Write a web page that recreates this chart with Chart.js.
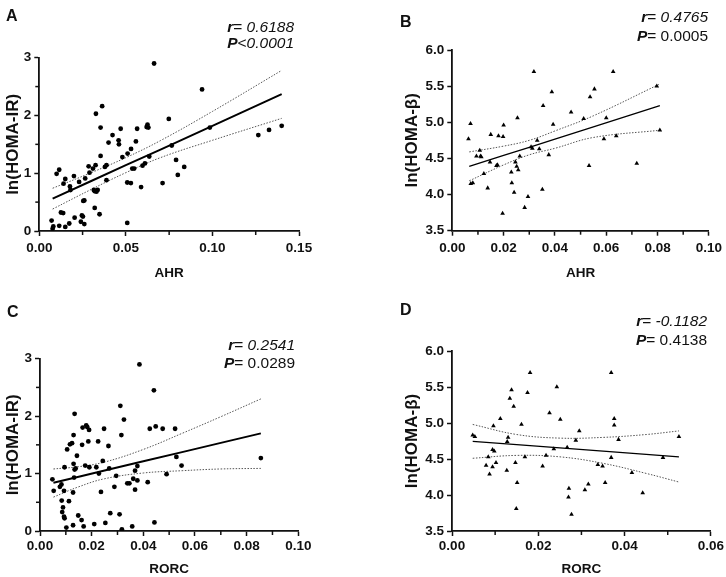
<!DOCTYPE html>
<html>
<head>
<meta charset="utf-8">
<script src="https://cdn.jsdelivr.net/npm/chart.js@4.4.0/dist/chart.umd.min.js"></script>
<style>
body { margin: 0; background: #fff; }
#wrap { position: relative; width: 726px; height: 577px; }
canvas { position: absolute; }
</style>
</head>
<body>
<div id="wrap">
  <canvas id="cA" width="363" height="288" style="left:0;top:0"></canvas>
  <canvas id="cB" width="363" height="288" style="left:363px;top:0"></canvas>
  <canvas id="cC" width="363" height="289" style="left:0;top:288px"></canvas>
  <canvas id="cD" width="363" height="289" style="left:363px;top:288px"></canvas>
</div>
<script>
// ---- panel A : AHR vs ln(HOMA-IR)
const aX = [0.0071,0.0077,0.0081,0.010,0.0115,0.0115,0.0125,0.0138,0.014,0.015,0.015,0.0173,0.0177,0.018,0.020,0.0204,0.023,0.024,0.0246,0.0252,0.0254,0.026,0.026,0.0265,0.0285,0.029,0.031,0.0315,0.032,0.0327,0.0325,0.032,0.033,0.0337,0.0348,0.0354,0.0354,0.0363,0.0379,0.0388,0.0388,0.040,0.0423,0.0458,0.046,0.047,0.048,0.0508,0.0508,0.051,0.053,0.0529,0.0537,0.0548,0.0558,0.0565,0.0588,0.0596,0.061,0.062,0.0625,0.063,0.0635,0.0663,0.0712,0.0748,0.0765,0.079,0.080,0.0837,0.094,0.0985,0.1265,0.1327,0.140];
const aY = [0.18,0.04,0.08,0.99,1.06,0.09,0.32,0.31,0.82,0.90,0.07,0.13,0.77,0.71,0.95,0.23,0.85,0.16,0.27,0.25,0.52,0.53,0.12,0.91,1.12,1.01,1.08,0.71,0.69,2.03,1.14,0.40,0.68,0.71,0.29,1.30,1.79,2.16,1.11,1.14,0.88,1.53,1.66,1.57,1.50,1.77,1.28,0.84,0.14,1.34,1.42,0.83,1.08,1.08,1.55,1.77,0.76,1.13,1.17,1.80,1.84,1.79,1.29,2.90,0.83,1.94,1.48,1.23,0.97,1.11,2.45,1.79,1.66,1.75,1.82];
const aBandX = [0.0077,0.03,0.05,0.07,0.10,0.140];
const aFit   = [0.56,0.865,1.14,1.41,1.82,2.37];
const aUpper = [0.74,1.01,1.27,1.565,2.07,2.78];
const aLower = [0.38,0.72,1.01,1.27,1.57,1.95];

// ---- panel B : AHR vs ln(HOMA-beta)
const bX = [0.0063,0.0071,0.0072,0.0080,0.0094,0.0107,0.011,0.0113,0.0123,0.0138,0.0147,0.0150,0.0172,0.0176,0.018,0.0196,0.0198,0.0200,0.023,0.0232,0.0241,0.0246,0.0251,0.0254,0.0257,0.0263,0.0282,0.0295,0.0307,0.0312,0.0318,0.0331,0.0339,0.0351,0.0354,0.0376,0.0388,0.0393,0.0463,0.0512,0.0533,0.0537,0.0554,0.0591,0.060,0.0627,0.0639,0.0719,0.0797,0.0809];
const bY = [4.77,4.98,4.15,4.16,4.53,4.61,4.53,4.52,4.29,4.09,4.45,4.83,4.40,4.41,4.81,3.74,4.80,4.96,4.31,4.16,4.03,4.45,4.39,5.06,4.34,4.53,3.82,3.97,4.66,4.64,5.70,4.75,4.63,4.07,5.23,4.55,5.42,4.97,5.14,5.05,4.40,5.35,5.46,4.77,5.06,5.70,4.81,4.43,5.50,4.89];
const bBandX = [0.0066,0.02,0.03,0.04,0.055,0.0809];
const bFit   = [4.39,4.541,4.654,4.767,4.937,5.23];
const bUpper = [4.59,4.67,4.75,4.88,5.09,5.53];
const bLower = [4.19,4.41,4.55,4.64,4.79,4.89];

// ---- panel C : RORC vs ln(HOMA-IR)
const cX = [0.0048,0.0053,0.0077,0.0083,0.0084,0.0086,0.0089,0.0093,0.0095,0.0093,0.0095,0.0102,0.0105,0.0112,0.0116,0.0124,0.0128,0.0128,0.013,0.013,0.0132,0.0134,0.0134,0.0138,0.0143,0.0148,0.0161,0.0163,0.0165,0.0169,0.0175,0.0179,0.0183,0.0187,0.019,0.0191,0.021,0.0218,0.0225,0.0228,0.0236,0.0243,0.0248,0.0253,0.0265,0.0268,0.0272,0.0288,0.0295,0.0308,0.0311,0.0315,0.0317,0.0325,0.0338,0.0346,0.0357,0.0361,0.0368,0.0368,0.0377,0.0377,0.0385,0.0417,0.0425,0.0441,0.0443,0.0448,0.0475,0.049,0.0523,0.0528,0.0548,0.0855];
const cY = [0.90,0.70,0.77,0.81,0.53,0.33,0.41,0.25,0.22,0.70,1.11,0.06,1.42,0.52,1.51,1.53,0.67,0.10,1.17,1.67,0.93,2.04,1.07,1.09,1.31,0.27,0.19,1.50,1.80,0.08,1.14,1.84,1.81,1.56,1.76,1.11,0.12,1.11,1.56,1.00,0.68,1.22,1.78,0.14,1.48,1.09,0.31,0.77,0.96,0.29,2.18,1.67,0.03,1.94,0.83,0.83,0.08,0.91,0.72,1.05,1.13,0.88,2.90,0.85,1.78,2.45,0.15,1.82,1.78,0.99,1.78,1.29,1.14,1.27];
const cBandX = [0.0052,0.015,0.025,0.04,0.055,0.07,0.0855];
const cFit   = [0.84,0.945,1.052,1.213,1.373,1.534,1.70];
const cUpper = [1.08,1.12,1.20,1.42,1.70,1.99,2.30];
const cLower = [0.59,0.77,0.91,1.01,1.05,1.08,1.09];

// ---- panel D : RORC vs ln(HOMA-beta)
const dX = [0.0048,0.0053,0.0079,0.0084,0.0087,0.0094,0.0094,0.0096,0.0098,0.0102,0.0112,0.0127,0.0128,0.013,0.0134,0.0138,0.0143,0.0147,0.0149,0.0151,0.0161,0.0169,0.0175,0.0181,0.021,0.0218,0.0226,0.0243,0.0251,0.0236,0.0267,0.027,0.0271,0.0277,0.0287,0.0295,0.0308,0.0316,0.0338,0.0349,0.0355,0.0369,0.0369,0.0376,0.0376,0.0386,0.0417,0.0442,0.0489,0.0526];
const dY = [4.83,4.81,4.41,4.53,4.29,4.39,4.63,4.96,4.61,4.45,5.06,4.34,4.74,4.80,5.34,5.46,5.23,4.45,3.81,4.17,4.98,4.53,5.42,5.70,4.40,4.55,5.14,5.50,5.05,4.64,4.66,3.97,4.09,3.73,4.76,4.89,4.07,4.15,4.42,4.40,4.17,5.70,4.52,5.06,4.97,4.77,4.31,4.03,4.52,4.81];
const dBandX = [0.0048,0.015,0.025,0.035,0.045,0.0526];
const dFit   = [4.745,4.699,4.654,4.609,4.564,4.53];
const dUpper = [4.98,4.84,4.79,4.80,4.84,4.89];
const dLower = [4.51,4.55,4.53,4.44,4.30,4.18];

// texts
const letters = ["A", "B", "C", "D"];
const rValues = ["0.6188", "0.4765", "0.2541", "-0.1182"];
const pValues = ["<0.0001", "0.0005", "0.0289", "0.4138"];
const xTitles = ["AHR", "AHR", "RORC", "RORC"];
const yTitles = ["ln(HOMA-IR)", "ln(HOMA-\u03b2)", "ln(HOMA-IR)", "ln(HOMA-\u03b2)"];

// minor ticks
const aMinorX = [0.025,0.075,0.125], aMinorY = [0.5,1.5,2.5];
const bMinorX = [0.01,0.03,0.05,0.07,0.09], bMinorY = [];
const cMinorX = [0.01,0.03,0.05,0.07,0.09], cMinorY = [0.5,1.5,2.5];
const dMinorX = [0.01,0.03,0.05], dMinorY = [];

const FONT = '"Liberation Sans", Arial, sans-serif';
Chart.defaults.font.family = FONT;
Chart.defaults.color = "#111";

function pts(xs, ys) {
  return xs.map((x, i) => ({ x: x, y: ys[i] }));
}

function drawParts(c, parts, right, base) {
  let w = 0;
  parts.forEach((p) => { c.font = p[1]; w += c.measureText(p[0]).width; });
  let x = right - w;
  parts.forEach((p) => {
    c.font = p[1];
    c.fillText(p[0], x, base);
    x += c.measureText(p[0]).width;
  });
}

function makePanel(id, i, d) {
  const extras = {
    id: "extras" + i,
    afterDraw(chart) {
      const c = chart.ctx, sx = chart.scales.x, sy = chart.scales.y, a = chart.chartArea;
      c.save();
      c.strokeStyle = "#111";
      c.lineWidth = 1.5;
      d.minorX.forEach((v) => {
        const p = sx.getPixelForValue(v);
        c.beginPath(); c.moveTo(p, a.bottom); c.lineTo(p, a.bottom + 4); c.stroke();
      });
      d.minorY.forEach((v) => {
        const p = sy.getPixelForValue(v);
        c.beginPath(); c.moveTo(a.left, p); c.lineTo(a.left - 4, p); c.stroke();
      });
      c.fillStyle = "#111";
      c.textAlign = "left";
      c.textBaseline = "alphabetic";
      c.font = "bold 16px " + FONT;
      c.fillText(letters[i], d.letterPos[0], d.letterPos[1]);
      const fs = "15.5px " + FONT;
      drawParts(c, [["r", "italic bold " + fs], ["= ", fs], [rValues[i], "italic " + fs]], d.textRight, d.rBase);
      if (i === 0) {
        drawParts(c, [["P", "italic bold " + fs], ["<", fs], [pValues[i].slice(1), "italic " + fs]], d.textRight, d.pBase);
      } else {
        drawParts(c, [["P", "italic bold " + fs], ["= ", fs], [pValues[i], fs]], d.textRight, d.pBase);
      }
      c.restore();
    },
  };

  return new Chart(document.getElementById(id).getContext("2d"), {
    type: "scatter",
    data: {
      datasets: [
        {
          data: pts(d.x, d.y),
          backgroundColor: "#000",
          borderColor: "#000",
          pointStyle: d.marker,
          pointRadius: d.marker === "circle" ? 2.4 : 2.7,
          borderWidth: 0,
        },
        {
          data: pts(d.bandX, d.fit),
          showLine: true,
          borderColor: "#000",
          borderWidth: d.fitW,
          pointRadius: 0,
        },
        {
          data: pts(d.bandX, d.upper),
          showLine: true,
          borderColor: "#555",
          borderWidth: 1,
          borderDash: [1.5, 1.5],
          tension: 0.4,
          pointRadius: 0,
        },
        {
          data: pts(d.bandX, d.lower),
          showLine: true,
          borderColor: "#555",
          borderWidth: 1,
          borderDash: [1.5, 1.5],
          tension: 0.4,
          pointRadius: 0,
        },
      ],
    },
    options: {
      responsive: false,
      animation: false,
      layout: { padding: d.pad },
      plugins: { legend: { display: false }, tooltip: { enabled: false } },
      scales: {
        x: {
          type: "linear",
          min: d.xMin,
          max: d.xMax,
          afterFit: (s) => { s.height = d.xH; },
          ticks: {
            stepSize: d.xStep,
            padding: d.xTickPad,
            font: { size: 13.5, weight: "bold" },
            callback: (v) => v.toFixed(2),
          },
          grid: { display: true, drawOnChartArea: false, drawTicks: true, tickLength: 5, tickWidth: 1.5, tickColor: "#111" },
          border: { display: true, color: "#111", width: 1.8 },
          title: { display: true, text: xTitles[i], font: { size: 13.5, weight: "bold" }, padding: { top: 0, bottom: d.xTitlePad } },
        },
        y: {
          type: "linear",
          min: d.yMin,
          max: d.yMax,
          afterFit: (s) => { s.width = d.yW; },
          ticks: {
            stepSize: d.yStep,
            padding: 3,
            font: { size: 13.5, weight: "bold" },
            callback: (v) => v.toFixed(d.yDec),
          },
          grid: { display: true, drawOnChartArea: false, drawTicks: true, tickLength: 5, tickWidth: 1.5, tickColor: "#111" },
          border: { display: true, color: "#111", width: 1.8 },
          title: { display: true, text: yTitles[i], font: { size: 17, weight: "bold" }, padding: { top: 3, bottom: 0 } },
        },
      },
    },
    plugins: [extras],
  });
}

const chartA = makePanel("cA", 0, {
  x: aX, y: aY, bandX: aBandX, fit: aFit, upper: aUpper, lower: aLower,
  marker: "circle", fitW: 2,
  xMin: 0, xMax: 0.15, xStep: 0.05, yMin: 0, yMax: 3, yStep: 1, yDec: 0,
  minorX: aMinorX, minorY: aMinorY,
  pad: { left: 0, right: 64, top: 57.7, bottom: 0 }, yW: 39.3, xH: 57, xTickPad: 4, xTitlePad: 7,
  letterPos: [6, 21], textRight: 294, rBase: 32, pBase: 48,
});
const chartB = makePanel("cB", 1, {
  x: bX, y: bY, bandX: bBandX, fit: bFit, upper: bUpper, lower: bLower,
  marker: "triangle", fitW: 1.3,
  xMin: 0, xMax: 0.1, xStep: 0.02, yMin: 3.5, yMax: 6, yStep: 0.5, yDec: 1,
  minorX: bMinorX, minorY: bMinorY,
  pad: { left: 36, right: 16, top: 50, bottom: 0 }, yW: 53.3, xH: 57.3, xTickPad: 4, xTitlePad: 7,
  letterPos: [37, 27], textRight: 345, rBase: 22, pBase: 40.5,
});
const chartC = makePanel("cC", 2, {
  x: cX, y: cY, bandX: cBandX, fit: cFit, upper: cUpper, lower: cLower,
  marker: "circle", fitW: 2,
  xMin: 0, xMax: 0.1, xStep: 0.02, yMin: 0, yMax: 3, yStep: 1, yDec: 0,
  minorX: cMinorX, minorY: cMinorY,
  pad: { left: 0, right: 64.7, top: 70.7, bottom: 0 }, yW: 40, xH: 46, xTickPad: 2, xTitlePad: 0,
  letterPos: [7, 29], textRight: 295, rBase: 61.5, pBase: 79.5,
});
const chartD = makePanel("cD", 3, {
  x: dX, y: dY, bandX: dBandX, fit: dFit, upper: dUpper, lower: dLower,
  marker: "triangle", fitW: 1.3,
  xMin: 0, xMax: 0.06, xStep: 0.02, yMin: 3.5, yMax: 6, yStep: 0.5, yDec: 1,
  minorX: dMinorX, minorY: dMinorY,
  pad: { left: 36, right: 15, top: 63, bottom: 0 }, yW: 53, xH: 46, xTickPad: 2, xTitlePad: 0,
  letterPos: [37, 26.5], textRight: 344, rBase: 37.5, pBase: 56.5,
});
</script>
</body>
</html>
